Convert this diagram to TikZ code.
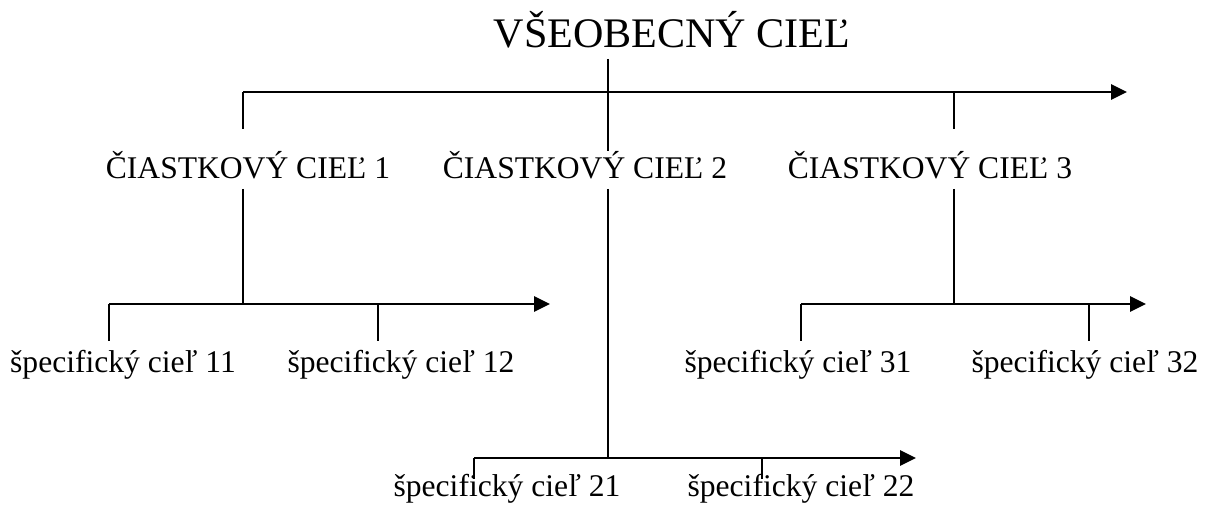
\documentclass[tikz,border=0pt]{standalone}
\usepackage{fontspec}
\setmainfont{Liberation Serif}
\usetikzlibrary{arrows.meta}
\begin{document}
\begin{tikzpicture}[x=0.38pt,y=-0.38pt]
        % Styles
        \tikzstyle{goal}=[font=\fontsize{16}{19}\selectfont,inner sep=0pt,anchor=base]
        \tikzstyle{part goal}=[font=\fontsize{12}{14}\selectfont,inner sep=0pt,anchor=base]
        \tikzstyle{stem}=[line width=0.75pt]
        \tikzstyle{branch}=[line width=1.1pt,-{Triangle[length=6pt,width=5.6pt]}]
        \useasboundingbox (0,0) rectangle (1208,506);
        %goals
        \node[goal] (vseob) at (672,48) {VŠEOBECNÝ CIEĽ};
        \node[part goal] (c1) at (248,179) {ČIASTKOVÝ CIEĽ 1};
        \node[part goal] (c2) at (585,179) {ČIASTKOVÝ CIEĽ 2};
        \node[part goal] (c3) at (930,179) {ČIASTKOVÝ CIEĽ 3};
        \node[part goal] (s11) at (123,373) {špecifický cieľ 11};
        \node[part goal] (s12) at (401,373) {špecifický cieľ 12};
        \node[part goal] (s21) at (507,497) {špecifický cieľ 21};
        \node[part goal] (s22) at (801,497) {špecifický cieľ 22};
        \node[part goal] (s31) at (798,373) {špecifický cieľ 31};
        \node[part goal] (s32) at (1085,373) {špecifický cieľ 32};
        %junctions
        \coordinate (t0) at (608,59);
        \coordinate (a1) at (243,92);
        \coordinate (a2) at (608,92);
        \coordinate (a3) at (954,92);
        \coordinate (aend) at (1127,92);
        \coordinate (b1) at (243,304);
        \coordinate (b11) at (109,304);
        \coordinate (b12) at (378,304);
        \coordinate (b1end) at (550,304);
        \coordinate (b2) at (608,458);
        \coordinate (b21) at (474,458);
        \coordinate (b22) at (762,458);
        \coordinate (b2end) at (916,458);
        \coordinate (b3) at (954,304);
        \coordinate (b31) at (801,304);
        \coordinate (b32) at (1089,304);
        \coordinate (b3end) at (1146,304);
        %top level
        \draw[branch] (a1) -- (aend);
        \draw[stem] (t0) -- (a2 |- c2.north);
        \draw[stem] (a1) -- ++(0,37);
        \draw[stem] (a3) -- ++(0,37);
        %first branch
        \draw[stem] (c1.south -| b1) ++(0,9) -- (b1);
        \draw[branch] (b11) -- (b1end);
        \draw[stem] (b11) -- ++(0,37);
        \draw[stem] (b12) -- ++(0,37);
        %second branch
        \draw[stem] (c2.south -| b2) ++(0,9) -- (b2);
        \draw[branch] (b21) -- (b2end);
        \draw[stem] (b21) -- ++(0,21);
        \draw[stem] (b22) -- ++(0,21);
        %third branch
        \draw[stem] (c3.south -| b3) ++(0,9) -- (b3);
        \draw[branch] (b31) -- (b3end);
        \draw[stem] (b31) -- ++(0,37);
        \draw[stem] (b32) -- ++(0,37);
\end{tikzpicture}
\end{document}
